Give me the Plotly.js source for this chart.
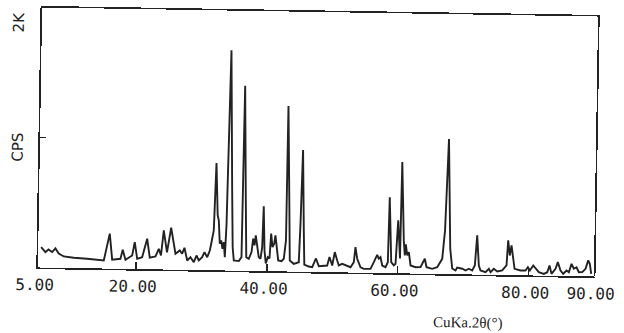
<!DOCTYPE html>
<html>
<head>
<meta charset="utf-8">
<script src="https://cdn.plot.ly/plotly-3.0.1.min.js"></script>
<style>
  html, body { margin: 0; padding: 0; background: #ffffff; overflow: hidden; }
  #wrap { width: 624px; height: 333px; transform: rotate(0.93deg); transform-origin: 318px 142px; }
</style>
</head>
<body>
<div id="wrap"></div>
<script>
// 2-theta (degrees)
const twoTheta = [5.44, 6.11, 6.56, 7.14, 7.63, 8.15, 8.92, 10.45, 12.50, 15.05,
  15.90, 16.33, 17.59, 17.92, 18.36, 19.38, 19.74, 20.15, 20.91, 21.63,
  22.07, 22.94, 23.43, 23.78, 24.15, 24.69, 25.27, 25.99, 26.64, 27.01,
  27.35, 27.80, 28.29, 28.81, 29.21, 29.57, 30.08, 30.42, 30.85, 31.23,
  31.43, 31.79, 32.04, 32.35, 32.53, 32.74, 32.95, 33.16, 33.35, 33.54,
  33.72, 33.88, 34.05, 34.50, 34.72, 34.92, 35.69, 36.09, 36.13, 36.23,
  36.61, 36.82, 37.21, 37.61, 37.83, 38.05, 38.22, 38.43, 38.73, 39.00,
  39.23, 39.37, 39.59, 39.82, 40.11, 40.37, 40.57, 40.80, 41.06, 41.23,
  41.46, 41.71, 42.22, 42.56, 42.85, 42.90, 43.26, 43.48, 44.10, 44.86,
  45.03, 45.24, 45.55, 45.71, 46.40, 46.92, 47.48, 47.93, 49.21, 49.54,
  49.98, 50.34, 50.73, 50.99, 51.50, 52.01, 52.78, 53.27, 53.49, 53.78,
  54.31, 54.82, 55.84, 56.33, 56.83, 57.08, 57.34, 57.62, 58.13, 58.47,
  58.61, 58.99, 59.39, 59.65, 59.96, 60.32, 60.44, 60.86, 61.05, 61.18,
  61.42, 61.66, 61.95, 62.72, 63.48, 64.12, 64.40, 65.27, 66.03, 66.78,
  67.14, 67.52, 67.82, 67.98, 68.33, 68.84, 69.09, 69.86, 70.37, 70.87,
  71.39, 71.78, 72.07, 72.39, 72.66, 73.43, 73.93, 74.20, 74.69, 75.22,
  75.98, 76.62, 76.82, 77.10, 77.34, 77.64, 77.86, 78.78, 79.54, 79.89,
  80.20, 80.71, 81.07, 81.58, 82.35, 82.86, 83.20, 83.52, 84.12, 84.46,
  84.89, 85.31, 85.81, 86.17, 86.56, 86.92, 87.33, 87.69, 88.21, 88.71,
  89.10, 89.35, 89.59];

// intensity (counts per second)
const cps = [157, 119, 140, 120, 149, 110, 88, 79, 73, 62,
  269, 69, 77, 147, 70, 104, 207, 79, 92, 235,
  89, 99, 159, 108, 301, 132, 323, 123, 149, 124,
  170, 72, 98, 60, 112, 74, 100, 139, 100, 152,
  204, 307, 825, 424, 385, 206, 231, 167, 218, 103,
  348, 1043, 1694, 619, 179, 78, 74, 105, 543, 1423,
  543, 105, 93, 145, 248, 197, 274, 189, 107, 95,
  185, 499, 159, 59, 108, 98, 289, 186, 212, 277,
  192, 84, 79, 98, 239, 1274, 549, 85, 60, 73,
  372, 936, 319, 56, 41, 36, 104, 45, 51, 116,
  52, 155, 91, 53, 66, 54, 41, 80, 196, 107,
  42, 30, 31, 83, 140, 110, 122, 58, 46, 84,
  584, 85, 60, 73, 408, 115, 856, 254, 138, 223,
  139, 164, 62, 49, 50, 115, 51, 39, 52, 117,
  336, 1040, 337, 196, 44, 29, 52, 43, 30, 44,
  31, 70, 302, 70, 32, 19, 46, 20, 47, 26,
  35, 74, 267, 151, 229, 100, 49, 37, 38, 63,
  38, 77, 52, 26, 14, 27, 79, 15, 54, 106,
  42, 17, 43, 30, 95, 57, 69, 31, 32, 58,
  123, 97, 20];

const xTickVals = [5, 20, 40, 60, 80, 90];
const xTickText = ["5.00", "20.00", "40.00", "60.00", "80.00", "90.00"];
const yTickVals = [1000];
const yTopLabel = "2K";
const yLabel = "CPS";
const xLabel = "CuKa.2θ(°)";

const ink = "#222222";

const trace = {
  x: twoTheta,
  y: cps,
  type: "scatter",
  mode: "lines",
  line: { color: ink, width: 1.9 },
  hoverinfo: "skip"
};

const layout = {
  width: 624,
  height: 333,
  margin: { l: 40, r: 28, t: 12, b: 61 },
  paper_bgcolor: "#ffffff",
  plot_bgcolor: "#ffffff",
  showlegend: false,
  xaxis: {
    range: [5, 90],
    tickmode: "array",
    tickvals: xTickVals,
    ticktext: xTickText,
    ticks: "inside",
    ticklen: 7,
    tickwidth: 1.4,
    tickcolor: ink,
    showline: true,
    mirror: true,
    linecolor: ink,
    linewidth: 1.6,
    showgrid: false,
    zeroline: false,
    ticklabelstandoff: 2,
    ticklabelshift: -3,
    tickfont: { family: "DejaVu Sans Mono", size: 16, color: "#222" }
  },
  yaxis: {
    range: [0, 2000],
    tickmode: "array",
    tickvals: yTickVals,
    ticks: "inside",
    ticklen: 6,
    tickwidth: 1.4,
    tickcolor: ink,
    showticklabels: false,
    showline: true,
    mirror: true,
    linecolor: ink,
    linewidth: 1.6,
    showgrid: false,
    zeroline: false
  },
  annotations: [
    { text: yTopLabel, xref: "paper", yref: "paper", x: -0.042, y: 0.944,
      showarrow: false, textangle: -90, xanchor: "center", yanchor: "middle",
      font: { family: "DejaVu Sans", size: 15, color: "#222" } },
    { text: yLabel, xref: "paper", yref: "paper", x: -0.04, y: 0.462,
      showarrow: false, textangle: -90, xanchor: "center", yanchor: "middle",
      font: { family: "DejaVu Sans", size: 15, color: "#222" } },
    { text: xLabel, xref: "paper", yref: "paper", x: 0.774, y: -0.186,
      showarrow: false, xanchor: "center", yanchor: "middle",
      font: { family: "Liberation Serif", size: 15, color: "#222" } }
  ]
};

Plotly.newPlot("wrap", [trace], layout, { staticPlot: true, displayModeBar: false });
</script>
</body>
</html>
